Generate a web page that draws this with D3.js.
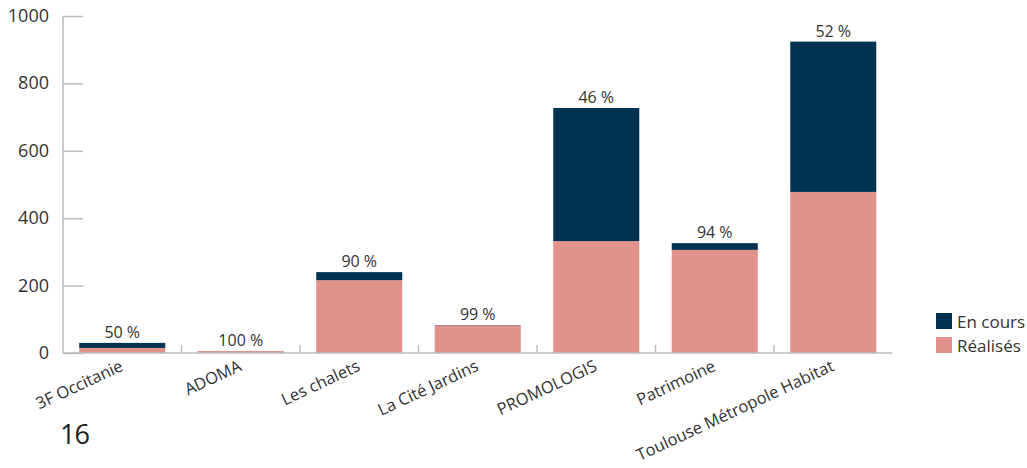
<!DOCTYPE html>
<html><head><meta charset="utf-8">
<script src="https://cdn.jsdelivr.net/npm/d3@7"></script>
<style>body{margin:0;background:#fff}svg{display:block}text{font-family:"Open Sans","Noto Sans",sans-serif}</style>
</head><body><svg id="c" width="1027" height="468"></svg>
<script>
const categories = ["3F Occitanie","ADOMA","Les chalets","La Cité Jardins","PROMOLOGIS","Patrimoine","Toulouse Métropole Habitat"];
const realises = [15, 6, 216, 82, 332, 306, 478];
const enCours = [15, 0, 24, 1, 395, 20, 446];
const pctLabels = ["50 %","100 %","90 %","99 %","46 %","94 %","52 %"];
const yTicks = [0,200,400,600,800,1000];
const seriesNames = ["En cours","Réalisés"];
const colors = {"En cours":"#003352","Réalisés":"#E0928B"};

const svg = d3.select("#c");
const x = d3.scaleBand().domain(categories).range([63, 892.5]).paddingInner(0.274).paddingOuter(0.137);
const y = d3.scaleLinear().domain([0,1000]).range([353, 16]);

const data = categories.map((c,i)=>({cat:c, "Réalisés":realises[i], "En cours":enCours[i]}));
const stack = d3.stack().keys(["Réalisés","En cours"])(data);

const axisColor = "#bdbdbd";
const yAxis = svg.append("g").attr("transform","translate(63,0)")
  .call(d3.axisRight(y).tickValues(yTicks).tickSize(20).tickFormat(""));
yAxis.select(".domain").remove();
yAxis.selectAll("line").attr("stroke",axisColor).attr("stroke-width",1.5);
svg.append("line").attr("x1",63).attr("x2",63).attr("y1",y(1000)).attr("y2",y(0)).attr("stroke",axisColor).attr("stroke-width",1.5);
svg.selectAll(".ylab").data(yTicks).join("text")
  .attr("x",49).attr("y",d=>y(d)+6).attr("text-anchor","end")
  .attr("font-size",18).attr("fill","#333").text(d=>d);

const boundaries = categories.slice(1).map(c=>x(c)-x.step()*x.paddingInner()/2);
svg.selectAll(".xt").data(boundaries).join("line")
  .attr("x1",d=>d).attr("x2",d=>d).attr("y1",345).attr("y2",353)
  .attr("stroke",axisColor).attr("stroke-width",1.5);

svg.append("g").selectAll("g").data(stack).join("g")
  .attr("fill",d=>colors[d.key])
  .selectAll("rect").data(d=>d).join("rect")
  .attr("x",d=>x(d.data.cat)).attr("width",x.bandwidth())
  .attr("y",d=>y(d[1])).attr("height",d=>y(d[0])-y(d[1]));

svg.append("line").attr("x1",63).attr("x2",892.5).attr("y1",353).attr("y2",353).attr("stroke",axisColor).attr("stroke-width",1.5);

svg.selectAll(".pl").data(categories).join("text")
  .attr("x",c=>x(c)+x.bandwidth()/2)
  .attr("y",(c,i)=>y(realises[i]+enCours[i])-5)
  .attr("text-anchor","middle").attr("font-size",16).attr("fill","#333")
  .text((c,i)=>pctLabels[i]);

svg.selectAll(".xl").data(categories).join("text")
  .attr("transform",c=>`translate(${x(c)+x.bandwidth()/2+2},${370}) rotate(-25)`)
  .attr("text-anchor","end").attr("font-size",16.5).attr("fill","#333")
  .text(c=>c);

const lg = svg.append("g");
seriesNames.forEach((s,i)=>{
  lg.append("rect").attr("x",936).attr("y",313+i*24).attr("width",16).attr("height",16).attr("fill",colors[s]);
  lg.append("text").attr("x",957).attr("y",328+i*24).attr("font-size",17).attr("fill","#333").text(s);
});

svg.append("text").attr("x",60).attr("y",444).attr("font-size",27).attr("fill","#222").attr("letter-spacing",-1).text("16");
</script></body></html>
